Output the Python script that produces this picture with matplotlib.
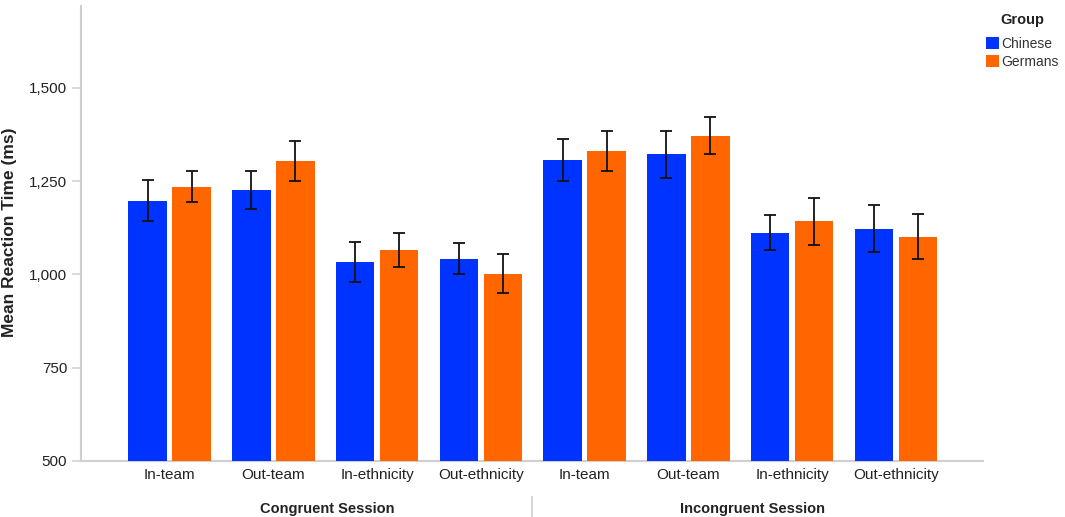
import numpy as np
import matplotlib
matplotlib.use("Agg")
from matplotlib import pyplot as plt
from matplotlib.ticker import FuncFormatter

plt.rcParams["font.family"] = ["Liberation Sans", "DejaVu Sans"]

# values
conditions = ["In-team", "Out-team", "In-ethnicity", "Out-ethnicity"] * 2
sessions = ["Congruent Session", "Incongruent Session"]
groups = ["Chinese", "Germans"]

chinese_mean = [1197, 1225, 1033, 1042, 1307, 1322, 1111, 1122]
chinese_lo = [1142, 1176, 979, 1002, 1251, 1259, 1064, 1059]
chinese_hi = [1254, 1278, 1088, 1083, 1363, 1385, 1158, 1187]
germans_mean = [1235, 1303, 1064, 1001, 1330, 1371, 1143, 1100]
germans_lo = [1195, 1251, 1019, 951, 1277, 1323, 1080, 1042]
germans_hi = [1278, 1357, 1111, 1054, 1385, 1421, 1205, 1161]

blue = "#0033ff"
orange = "#ff6600"
gray = "#cfcfcf"
textColor = "#222222"

fig = plt.figure(figsize=(10.65, 5.17), dpi=100)
ax = fig.add_axes([0.0761, 0.1089, 0.847, 0.8795])

x = np.arange(len(conditions))
width = 0.37
off = 0.212

def yerr(mean, lo, hi):
    mean = np.array(mean)
    return [mean - np.array(lo), np.array(hi) - mean]

b0 = ax.bar(x - off, chinese_mean, width, color=blue, label=groups[0], zorder=2)
b1 = ax.bar(x + off, germans_mean, width, color=orange, label=groups[1], zorder=2)
ax.errorbar(x - off, chinese_mean, yerr=yerr(chinese_mean, chinese_lo, chinese_hi),
            fmt="none", ecolor="#111111", elinewidth=1.3, capsize=4, capthick=1.3, zorder=3)
ax.errorbar(x + off, germans_mean, yerr=yerr(germans_mean, germans_lo, germans_hi),
            fmt="none", ecolor="#111111", elinewidth=1.3, capsize=4, capthick=1.3, zorder=3)

ax.set_ylim(500, 1720)
ax.set_xlim(-0.853, 7.84)
ax.set_yticks([500, 750, 1000, 1250, 1500])
ax.yaxis.set_major_formatter(FuncFormatter(lambda v, p: f"{v:,.0f}"))
ax.set_xticks(x)
ax.set_xticklabels(conditions)

for s in ["top", "right"]:
    ax.spines[s].set_visible(False)
for s in ["left", "bottom"]:
    ax.spines[s].set_color(gray)
    ax.spines[s].set_linewidth(1.5)
    ax.spines[s].set_zorder(1)

ax.tick_params(axis="y", length=6.5, width=1.1, color=gray, pad=3.5, labelsize=11, labelcolor=textColor)
ax.tick_params(axis="x", length=0, pad=5, labelsize=11, labelcolor=textColor)

fig.text(0.0085, 0.5503, "Mean Reaction Time (ms)", rotation=90, ha="center", va="center",
         fontsize=12.5, fontweight="bold", color=textColor)

# session labels and separator under the category labels
trans = ax.get_xaxis_transform()
ax.text(1.517, -0.107, sessions[0], transform=trans, ha="center", va="center",
        fontsize=10.5, fontweight="bold", color=textColor)
ax.text(5.617, -0.107, sessions[1], transform=trans, ha="center", va="center",
        fontsize=10.5, fontweight="bold", color=textColor)
ax.plot([3.495, 3.495], [-0.079, -0.13], transform=trans, color=gray, lw=1.2, clip_on=False)

# legend, title placed separately to get the same gap as the reference
fig.text(1022.7 / 1065, 1 - 20 / 517, "Group", ha="center", va="center",
         fontsize=10.5, fontweight="bold", color=textColor)
leg = fig.legend(handles=[b0, b1], loc="upper left",
                 bbox_to_anchor=(976 / 1065, 1 - 27 / 517), frameon=False,
                 fontsize=10, handlelength=0.95, handleheight=0.95,
                 handletextpad=0.15, labelspacing=0.3, borderpad=0.2)
for t in leg.get_texts():
    t.set_color("#333333")

plt.savefig("out.png", dpi=100)
